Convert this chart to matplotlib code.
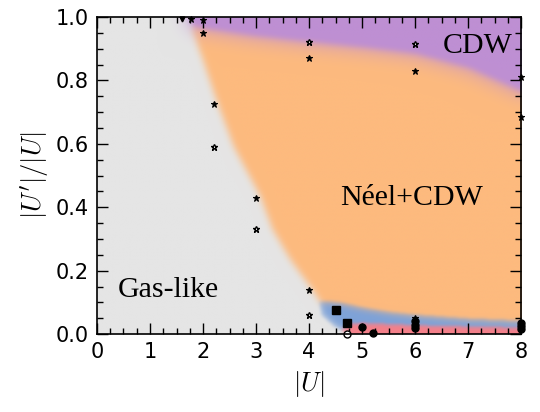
import numpy as np
import matplotlib
matplotlib.use("Agg")
import matplotlib.pyplot as plt
from matplotlib.ticker import MultipleLocator

# ---------------- data ----------------
# Gas-like / ordered boundary: U value as a function of U'/U
gas_v = [0.0, 0.03, 0.06, 0.10, 0.14, 0.233, 0.33, 0.43, 0.59, 0.725, 0.946, 1.0]
gas_U = [4.7, 4.45, 4.25, 4.2, 4.05, 3.64, 3.3, 3.08, 2.57, 2.27, 1.82, 1.66]
# CDW / Neel+CDW boundary
cdw_U = [1.6, 2.0, 3.0, 4.0, 5.0, 6.0, 7.0, 8.0]
cdw_v = [0.97, 0.955, 0.93, 0.912, 0.895, 0.875, 0.83, 0.755]
# upper edge of blue phase
blue_U = [4.0, 4.3, 4.6, 5.0, 5.5, 6.0, 7.0, 8.0]
blue_v = [0.10, 0.10, 0.095, 0.08, 0.066, 0.057, 0.045, 0.038]
# upper edge of red phase
red_U = [4.5, 4.75, 5.0, 6.0, 7.0, 8.0]
red_v = [0.0, 0.03, 0.033, 0.026, 0.022, 0.019]

phase_colors = ["#e5e5e5", "#be8fd3", "#fdba7e", "#7ea2d8", "#f4808a"]
phase_blur_px = [3.5, 9.0, 3.5, 2.0, 1.5]

star_filled_U = [1.77, 2.0, 2.0, 2.2, 3.0, 4.0, 4.0, 6.0, 8.0, 8.0, 6.0]
star_filled_v = [0.995, 0.99, 0.95, 0.725, 0.43, 0.87, 0.14, 0.83, 0.81, 0.685, 0.052]
star_open_U = [2.2, 3.0, 4.0, 4.0, 6.0]
star_open_v = [0.59, 0.33, 0.92, 0.06, 0.915]
tri_U = [1.6]
tri_v = [0.995]
square_U = [4.5, 4.72]
square_v = [0.075, 0.035]
circle_filled_U = [5.0, 5.2, 6.0, 6.0, 6.0, 8.0, 8.0, 8.0]
circle_filled_v = [0.022, 0.003, 0.02, 0.03, 0.04, 0.015, 0.025, 0.035]
circle_open_U = [4.72]
circle_open_v = [0.0]

# ---------------- phase image ----------------
nx, ny = 400, 400
U = np.linspace(0, 8, nx)
V = np.linspace(0, 1, ny)
UU, VV = np.meshgrid(U, V)

gas_edge = np.interp(VV, gas_v, gas_U)
cdw_edge = np.interp(UU, cdw_U, cdw_v)
blue_edge = np.interp(UU, blue_U, blue_v)
red_edge = np.interp(UU, red_U, red_v)

phase = np.full(UU.shape, 2)
phase[VV < blue_edge] = 3
phase[VV < red_edge] = 4
phase[VV > cdw_edge] = 1
phase[UU < gas_edge] = 0


def blur(a, sx, sy):
    def k(s):
        r = int(np.ceil(3 * s))
        x = np.arange(-r, r + 1)
        g = np.exp(-0.5 * (x / s) ** 2)
        return g / g.sum(), r
    gx, rx = k(sx)
    gy, ry = k(sy)
    p = np.pad(a, ((0, 0), (rx, rx)), mode="edge")
    a = np.apply_along_axis(lambda r: np.convolve(r, gx, mode="valid"), 1, p)
    p = np.pad(a, ((ry, ry), (0, 0)), mode="edge")
    a = np.apply_along_axis(lambda c: np.convolve(c, gy, mode="valid"), 0, p)
    return a


px_per_x = 424 / nx
px_per_y = 317 / ny
rgb = np.zeros(UU.shape + (3,))
wsum = np.zeros(UU.shape)
for i, (c, s) in enumerate(zip(phase_colors, phase_blur_px)):
    m = (phase == i).astype(float)
    w = blur(m, s / px_per_x, s / px_per_y)
    col = np.array(matplotlib.colors.to_rgb(c))
    rgb += w[..., None] * col
    wsum += w
rgb /= wsum[..., None]

# ---------------- figure ----------------
plt.rcParams["mathtext.fontset"] = "cm"
fig = plt.figure(figsize=(5.4, 4.12), dpi=100)
ax = fig.add_axes([0.1796, 0.189, 0.7854, 0.7697])
ax.imshow(rgb, origin="lower", extent=[0, 8, 0, 1], aspect="auto",
          interpolation="bilinear", zorder=0)

ax.plot(star_filled_U, star_filled_v, ls="none", marker="*", ms=4.8,
        mfc="black", mec="black", mew=0.8, clip_on=False, zorder=3)
ax.plot(star_open_U, star_open_v, ls="none", marker="*", ms=4.8,
        mfc="white", mec="black", mew=1.0, clip_on=False, zorder=3)
ax.plot(tri_U, tri_v, ls="none", marker="v", ms=3.5,
        mfc="black", mec="black", clip_on=False, zorder=3)
ax.plot(square_U, square_v, ls="none", marker="s", ms=5.5,
        mfc="black", mec="black", clip_on=False, zorder=3)
ax.plot(circle_filled_U, circle_filled_v, ls="none", marker="o", ms=5,
        mfc="black", mec="black", clip_on=False, zorder=3)
ax.plot(circle_open_U, circle_open_v, ls="none", marker="o", ms=5,
        mfc="white", mec="black", mew=1.0, clip_on=False, zorder=3)

ax.set_xlim(0, 8)
ax.set_ylim(0, 1)
ax.xaxis.set_major_locator(MultipleLocator(1))
ax.xaxis.set_minor_locator(MultipleLocator(0.25))
ax.yaxis.set_major_locator(MultipleLocator(0.2))
ax.yaxis.set_minor_locator(MultipleLocator(0.05))
ax.tick_params(which="both", direction="in", top=True, right=True,
               labelsize=15, width=1, colors="black")
ax.tick_params(which="major", length=8, pad=6)
ax.tick_params(which="minor", length=4)
for sp in ax.spines.values():
    sp.set_linewidth(1.2)
    sp.set_zorder(5)

ax.set_xlabel(r"$|U|$", fontsize=19, labelpad=5)
ax.set_ylabel(r"$|U'|/|U|$", fontsize=19, labelpad=3)

tfont = dict(family="Liberation Serif", fontsize=21.5, color="black")
ax.text(6.53, 0.886, "CDW", **tfont)
ax.text(4.58, 0.407, "Néel+CDW", **tfont)
ax.text(0.40, 0.117, "Gas-like", **tfont)

fig.savefig("out.png", dpi=100)
